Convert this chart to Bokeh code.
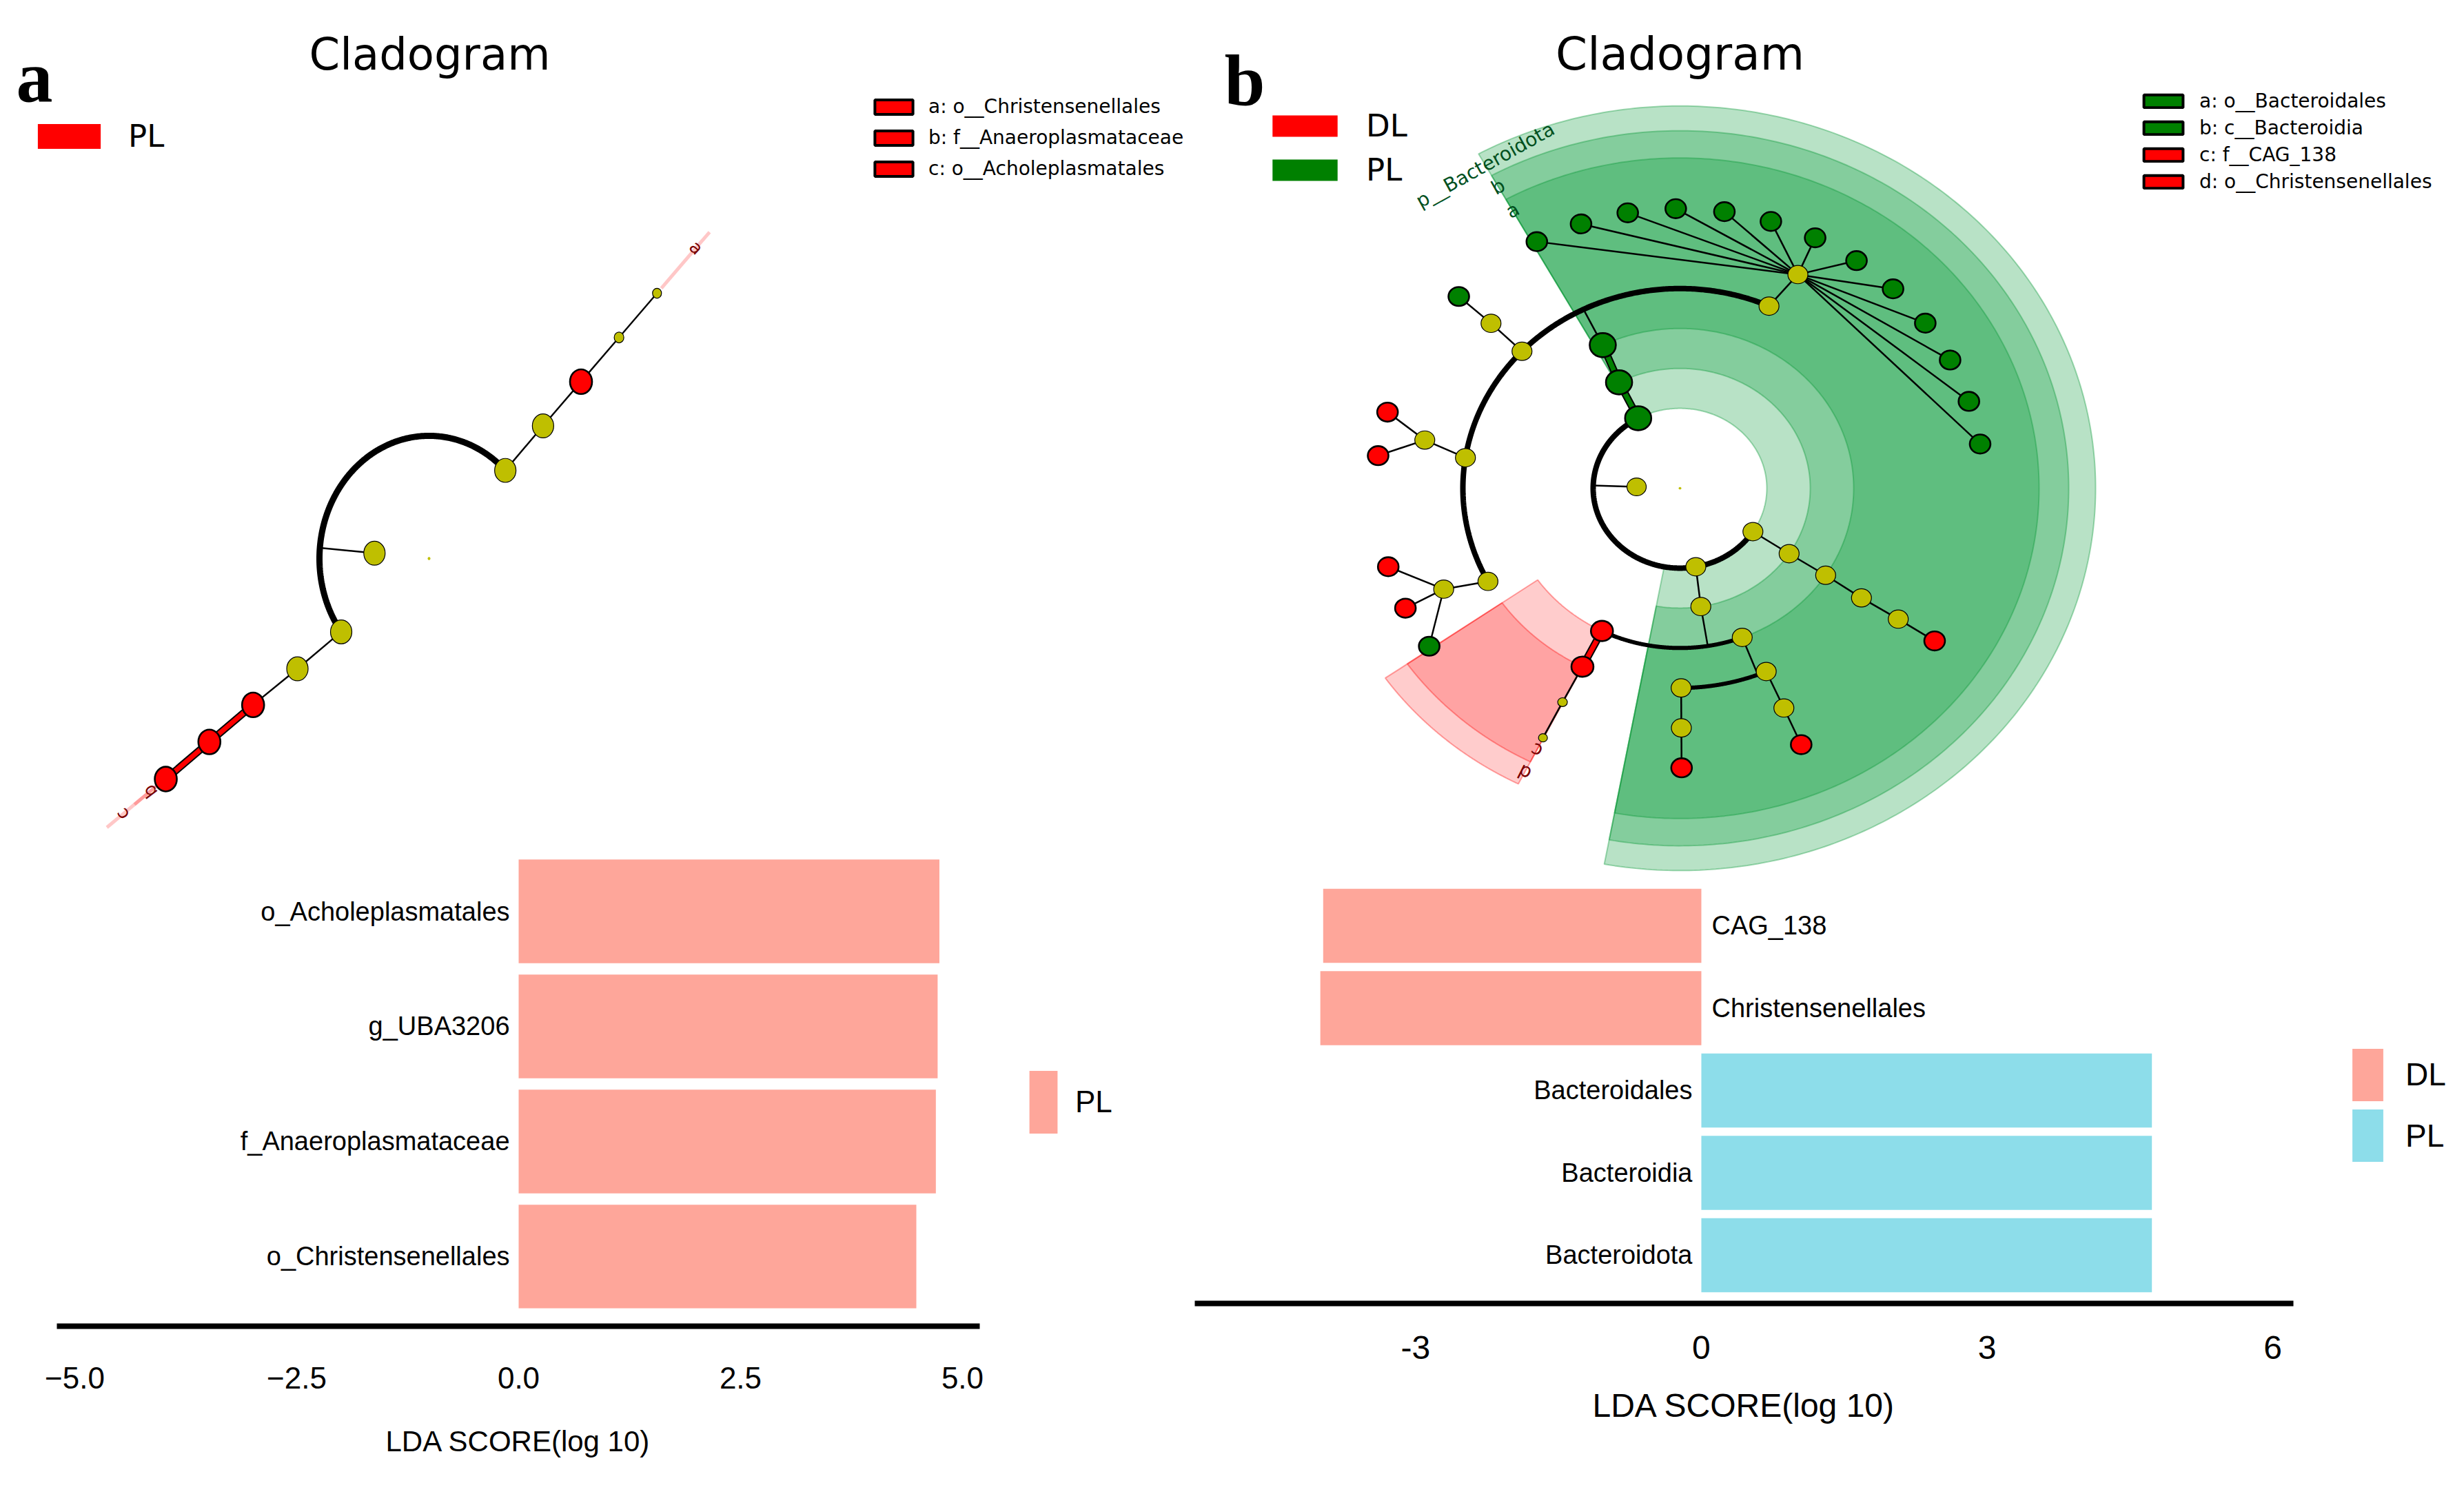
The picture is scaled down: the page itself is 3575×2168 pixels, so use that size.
import numpy as np
from bokeh.plotting import figure
from bokeh.models import ColumnDataSource, Legend, LegendItem, Label, FixedTicker, Range1d, Title
from bokeh.layouts import row, column
from bokeh.embed import file_html
from bokeh.resources import INLINE
from bokeh.core.properties import value

# ============================ DATA ============================
# ---- panel a : LDA bar chart (bottom -> top)
a_taxa = ["o_Christensenellales", "f_Anaeroplasmataceae", "g_UBA3206", "o_Acholeplasmatales"]
a_lda = [4.48, 4.70, 4.72, 4.74]
a_group = ["PL", "PL", "PL", "PL"]
a_groups = ["PL"]
a_ticks = [-5.0, -2.5, 0.0, 2.5, 5.0]
a_tick_labels = ["\u22125.0", "\u22122.5", "0.0", "2.5", "5.0"]

# ---- panel b : LDA bar chart (bottom -> top)
b_taxa = ["Bacteroidota", "Bacteroidia", "Bacteroidales", "Christensenellales", "CAG_138"]
b_lda = [4.73, 4.73, 4.73, -4.00, -3.97]
b_group = ["PL", "PL", "PL", "DL", "DL"]
b_groups = ["DL", "PL"]
b_ticks = [-3, 0, 3, 6]
b_tick_labels = ["-3", "0", "3", "6"]

# ---- panel a : cladogram (level = ring from the centre, angle in degrees)
a_clade_groups = ["PL"]
a_node_level = [0, 1, 2, 3, 4, 5, 6, 2, 3, 4, 5, 6]
a_node_angle = [0.0, 175.0, 45.9, 46.1, 46.1, 46.1, 46.1, 216.7, 216.8, 216.6, 216.7, 216.8]
a_node_class = ["none", "none", "none", "none", "PL", "none", "none", "none", "none", "PL", "PL", "PL"]
a_node_size = [4, 31, 31, 31, 32, 14, 13, 31, 31, 32, 32, 32]
a_edge_from = [2, 3, 4, 5, 7, 8, 9, 10]
a_edge_to = [3, 4, 5, 6, 8, 9, 10, 11]
a_stem_node = [1]
a_arc_level = [2]
a_arc_start = [45.9]
a_arc_end = [216.7]
a_clade_letter = ["a", "b", "c"]
a_clade_angle = [46.1, 216.7, 216.7]
a_clade_outer = [587, 533, 583]
a_legend_entries = ["a: o__Christensenellales", "b: f__Anaeroplasmataceae", "c: o__Acholeplasmatales"]
a_legend_class = ["PL", "PL", "PL"]

# ---- panel b : cladogram
b_clade_groups = ["DL", "PL"]
b_node_level = [0, 1, 2, 3, 4, 5, 5, 5, 5, 6, 6, 6, 6,
                7, 7, 7, 7, 7, 7, 7, 7, 7, 7, 7, 7, 7,
                7, 7, 7, 7, 7, 7,
                2, 2, 3, 4, 5, 6, 7, 3, 4, 5, 6, 7, 4, 5, 6, 7, 5, 6, 7]
b_node_angle = [0.0, 178.0, 118.8, 117.9, 116.4, 65.8, 136.7, 171.2, 207.8, 63.1, 136.5, 168.4, 204.9,
                118.1, 109.0, 99.9, 90.8, 81.6, 72.6, 63.6, 54.5, 45.5, 36.2, 27.3, 18.1, 9.1,
                136.7, 164.2, 173.3, 196.3, 205.4, 214.4,
                280.5, 327.1, 326.9, 327.0, 326.7, 326.9, 326.9, 279.2, 243.3, 243.3, 243.2, 243.2,
                291.0, 293.4, 293.5, 293.5, 270.3, 270.3, 270.3]
b_node_class = ["none", "none", "PL", "PL", "PL", "none", "none", "none", "none", "none", "none", "none", "none",
                "PL", "PL", "PL", "PL", "PL", "PL", "PL", "PL", "PL", "PL", "PL", "PL", "PL",
                "PL", "DL", "DL", "DL", "DL", "PL",
                "none", "none", "none", "none", "none", "none", "DL", "none", "DL", "DL", "none", "none",
                "none", "none", "none", "DL", "none", "none", "DL"]
b_node_size = [4, 28, 38, 38, 38, 29, 29, 29, 29, 29, 29, 29, 29,
               30, 30, 30, 30, 30, 30, 30, 30, 30, 30, 30, 30, 30,
               30, 30, 30, 30, 30, 30,
               29, 29, 29, 29, 29, 29, 30, 29, 32, 32, 14, 13,
               29, 29, 29, 30, 29, 29, 30]
b_edge_from = [2, 3, 5, 9, 9, 9, 9, 9, 9, 9, 9, 9, 9, 9, 9, 9,
               6, 10, 7, 11, 11, 8, 12, 12, 12, 32, 33, 34, 35, 36, 37, 40, 41, 42, 45, 46, 48, 49]
b_edge_to = [3, 4, 9, 13, 14, 15, 16, 17, 18, 19, 20, 21, 22, 23, 24, 25,
             10, 26, 11, 27, 28, 12, 29, 30, 31, 39, 34, 35, 36, 37, 38, 41, 42, 43, 46, 47, 49, 50]
b_stem_node = [1, 4, 39, 44]
b_arc_level = [2, 5, 4, 5]
b_arc_start = [118.8, 65.8, 243.3, 270.3]
b_arc_end = [327.1, 207.8, 291.0, 293.4]
b_clade_letter = ["p__Bacteroidota", "b", "a", "c", "d"]
b_clade_class = ["PL", "PL", "PL", "DL", "DL"]
b_clade_level = [2, 3, 4, 5, 4]
b_clade_start = [-100.5, -100.5, -100.5, 215.0, 215.0]
b_clade_end = [119.0, 119.0, 119.0, 243.3, 243.3]
b_clade_outer = [603, 564, 521, 483, 522]
b_legend_entries = ["a: o__Bacteroidales", "b: c__Bacteroidia", "c: f__CAG_138", "d: o__Christensenellales"]
b_legend_class = ["PL", "PL", "DL", "DL"]

# ============================ STYLE ============================
YEL, RED, GRN = "#BFBF00", "#FF0000", "#008000"
PINK, BLUE = "#FEA69A", "#8DDDEA"
SANS = "DejaVu Sans"
BARFONT = "Liberation Sans"
SERIF = "Liberation Serif"
NAN = float("nan")

a_node_col = {"none": YEL, "PL": RED}
b_node_col = {"none": YEL, "DL": RED, "PL": GRN}
b_wedge_col = {"DL": "#FF0000", "PL": "#009632"}
b_wedge_alpha = {"DL": 0.2, "PL": 0.28}
lab_col = {"DL": "#7A0000", "PL": "#00501E"}
a_lab_col = {"PL": "#7A0000"}
a_bar_col = {"PL": PINK}
b_bar_col = {"DL": PINK, "PL": BLUE}

W_LEFT, W_RIGHT = 1720, 1855
H_CLAD_A, H_BAR_A = 1225, 943
H_CLAD_B, H_BAR_B = 1275, 893


def polar(r, deg):
    t = np.deg2rad(np.asarray(deg, dtype=float))
    r = np.asarray(r, dtype=float)
    return r * np.cos(t), r * np.sin(t)


def base_fig(w, h, xr, yr):
    p = figure(width=w, height=h, x_range=Range1d(*xr), y_range=Range1d(*yr),
               output_backend="svg", toolbar_location=None, min_border=0,
               x_axis_location=None, y_axis_location=None)
    p.grid.visible = False
    p.outline_line_color = None
    p.background_fill_color = "white"
    p.border_fill_color = "white"
    return p


def draw_cladogram(p, step, yscale, lv, ang, cls, size, efrom, eto, stems,
                   arcl, arc0, arc1, arc_w, colors, thin_w):
    r = np.array(lv, dtype=float) * step
    nx, ny = polar(r, ang)
    for L, a0, a1, w in zip(arcl, arc0, arc1, arc_w):
        t = np.linspace(a0, a1, 300)
        ax, ay = polar(np.full(t.size, L * step), t)
        p.line(list(ax), list(ay), line_color="black", line_width=w)
    sxs, sys_ = [], []
    for i in stems:
        ex, ey = polar((lv[i] + 1) * step, ang[i])
        sxs.append([nx[i], float(ex)])
        sys_.append([ny[i], float(ey)])
    txs, tys, kxs, kys, kcol = [], [], [], [], []
    for i, j in zip(efrom, eto):
        if cls[i] != "none" and cls[i] == cls[j]:
            kxs.append([nx[i], nx[j]]); kys.append([ny[i], ny[j]]); kcol.append(colors[cls[i]])
        else:
            txs.append([nx[i], nx[j]]); tys.append([ny[i], ny[j]])
    p.multi_line(sxs + txs, sys_ + tys, line_color="black", line_width=thin_w)
    if kxs:
        p.multi_line(kxs, kys, line_color="black", line_width=11)
        p.multi_line(kxs, kys, line_color=kcol, line_width=7)
    src = ColumnDataSource(dict(
        x=list(nx), y=list(ny), w=list(size), h=[s * yscale for s in size],
        fill=[colors[c] for c in cls],
        lw=[1.2 if c == "none" else 2.6 for c in cls],
        la=[0.0 if L == 0 else 1.0 for L in lv]))
    p.ellipse(x="x", y="y", width="w", height="h", width_units="screen", height_units="screen",
              fill_color="fill", line_color="black", line_width="lw", line_alpha="la", source=src)


def add_legend(p, items, loc, gw, gh, lh, spacing, standoff, font, size):
    leg = Legend(items=items, location=loc, orientation="vertical", padding=0, margin=0,
                 spacing=spacing, glyph_width=gw, glyph_height=gh, label_height=lh,
                 label_standoff=standoff, label_text_font=font, label_text_font_size=size,
                 label_text_color="black", border_line_alpha=0, background_fill_alpha=0)
    p.add_layout(leg, "center")


def swatch(p, fill, line=None, lw=0):
    # legend proxy: one row without drawable coordinates, only its style is shown by the legend
    return p.quad(left=[NAN], right=[NAN], top=[NAN], bottom=[NAN], fill_color=fill,
                  line_color=line, line_width=lw)


def add_label(p, x, y, text, font, size, style="normal", align="left"):
    p.add_layout(Label(x=x, y=y, x_units="screen", y_units="screen", text=text,
                       text_font=font, text_font_size=size, text_font_style=style,
                       text_align=align, text_baseline="middle", text_color="black"))


# ============================ PANEL a : cladogram ============================
A_STEP, A_YS = 79.5, 1.12
ca = base_fig(W_LEFT, H_CLAD_A, (-622, 1098), (-370.5, 723.2))
pxs, pys = [], []
for ang_, ro in zip(a_clade_angle, a_clade_outer):
    x0, y0 = polar(486, ang_)
    x1, y1 = polar(ro, ang_)
    pxs.append([float(x0), float(x1)]); pys.append([float(y0), float(y1)])
ca.multi_line(pxs, pys, line_color=RED, line_alpha=0.22, line_width=5)
draw_cladogram(ca, A_STEP, A_YS, a_node_level, a_node_angle, a_node_class, a_node_size,
               a_edge_from, a_edge_to, a_stem_node, a_arc_level, a_arc_start, a_arc_end,
               [9], a_node_col, 2.4)
lx, ly = polar(np.array(a_clade_outer) - 28, a_clade_angle)
ca.text(x=list(lx), y=list(ly), text=a_clade_letter, angle=[a - 90 for a in a_clade_angle],
        angle_units="deg", text_align="center", text_baseline="middle",
        text_font=value(SANS), text_font_size="26px", text_color=a_lab_col["PL"])
add_label(ca, 623, 1147, "Cladogram", SANS, "64px", align="center")
add_label(ca, 23, 1114, "a", SERIF, "106px", style="bold")
ga = [swatch(ca, a_node_col[g]) for g in a_clade_groups]
add_legend(ca, [LegendItem(label=g, renderers=[r]) for g, r in zip(a_clade_groups, ga)],
           (43, 998), 114, 45, 60, 0, 29, SANS, "45px")
la = [swatch(ca, a_node_col[c], "black", 4) for c in a_legend_class]
add_legend(ca, [LegendItem(label=t, renderers=[r]) for t, r in zip(a_legend_entries, la)],
           (1262, 961.5), 69, 26, 38, 7, 16, SANS, "28px")

# ============================ PANEL b : cladogram ============================
B_STEP, B_YS = 63.0, 0.92
cb = base_fig(W_RIGHT, H_CLAD_B, (-717, 1138), (-616.3, 769.6))
wx, wy, wc, wa = [], [], [], []
for lvl, a0, a1, ro, c in zip(b_clade_level, b_clade_start, b_clade_end, b_clade_outer, b_clade_class):
    t = np.linspace(a0, a1, 300)
    xo, yo = polar(np.full(t.size, ro), t)
    xi, yi = polar(np.full(t.size, lvl * B_STEP), t[::-1])
    wx.append(list(xo) + list(xi)); wy.append(list(yo) + list(yi))
    wc.append(b_wedge_col[c]); wa.append(b_wedge_alpha[c])
cb.patches(xs="xs", ys="ys", fill_color="c", fill_alpha="a", line_color="c", line_alpha=0.35,
           line_width=2, source=ColumnDataSource(dict(xs=wx, ys=wy, c=wc, a=wa)))
draw_cladogram(cb, B_STEP, B_YS, b_node_level, b_node_angle, b_node_class, b_node_size,
               b_edge_from, b_edge_to, b_stem_node, b_arc_level, b_arc_start, b_arc_end,
               [8, 8, 6, 6], b_node_col, 2.5)
lx, ly = polar(np.array(b_clade_outer) - 20, b_clade_end)
cb.text(x=list(lx), y=list(ly), text=b_clade_letter, angle=[a - 90 for a in b_clade_end],
        angle_units="deg", text_align="center", text_baseline="middle",
        text_font=value(SANS), text_font_size="28px", text_color=[lab_col[c] for c in b_clade_class])
add_label(cb, 717, 1197, "Cladogram", SANS, "66px", align="center")
add_label(cb, 56, 1158, "b", SERIF, "106px", style="bold")
gb = [swatch(cb, b_node_col[g]) for g in b_clade_groups]
add_legend(cb, [LegendItem(label=g, renderers=[r]) for g, r in zip(b_clade_groups, gb)],
           (114, 998.5), 118, 39, 60, 4, 30, SANS, "45px")
lb = [swatch(cb, b_node_col[c], "black", 4) for c in b_legend_class]
add_legend(cb, [LegendItem(label=t, renderers=[r]) for t, r in zip(b_legend_entries, lb)],
           (1383, 993), 71, 23, 38, 1, 17, SANS, "28px")


# ============================ bar charts ============================
def bar_panel(w, h, xr, bounds, yr, borders, taxa, lda, group, groups, colors, ticks, tick_labels,
              lab_size, tick_size, tick_standoff, title, legs):
    top, bottom = borders
    p = figure(width=w, height=h, x_range=Range1d(*xr), y_range=Range1d(*yr),
               output_backend="svg", toolbar_location=None, y_axis_location=None,
               min_border_left=0, min_border_right=0, min_border_top=top,
               min_border_bottom=bottom)
    p.grid.visible = False
    p.outline_line_color = None
    rends = {}
    for g in groups:
        idx = [i for i, gg in enumerate(group) if gg == g]
        src = ColumnDataSource(dict(
            y=idx, l=[min(lda[i], 0) for i in idx], r=[max(lda[i], 0) for i in idx]))
        rends[g] = p.hbar(y="y", left="l", right="r", height=0.9, fill_color=colors[g],
                          line_color=None, source=src)
    n = len(taxa)
    tsrc = ColumnDataSource(dict(
        x=[0] * n, y=list(range(n)), t=taxa,
        al=["right" if v > 0 else "left" for v in lda],
        xo=[-13 if v > 0 else 15 for v in lda]))
    p.text(x="x", y="y", text="t", text_align="al", x_offset="xo", text_baseline="middle",
           text_font=value(BARFONT), text_font_size=lab_size, text_color="black", source=tsrc)
    ax = p.xaxis[0]
    ax.bounds = bounds
    ax.ticker = FixedTicker(ticks=ticks)
    ax.major_label_overrides = {t: l for t, l in zip(ticks, tick_labels)}
    ax.axis_line_width = 8
    ax.axis_line_color = "black"
    ax.major_tick_line_color = None
    ax.minor_tick_line_color = None
    ax.major_tick_out = 0
    ax.major_tick_in = 0
    ax.major_label_text_font = BARFONT
    ax.major_label_text_font_size = tick_size
    ax.major_label_text_color = "black"
    ax.major_label_standoff = tick_standoff
    # axis title, centred under the drawn axis line
    t_text, t_size, t_offset, t_standoff = title
    p.add_layout(Title(text=t_text, align="left", offset=t_offset, standoff=t_standoff,
                       vertical_align="top", text_font=BARFONT, text_font_size=t_size,
                       text_font_style="normal", text_color="black"), "below")
    for gs, loc, gw, gh, standoff, fsize in legs:
        add_legend(p, [LegendItem(label=g, renderers=[rends[g]]) for g in gs],
                   loc, gw, gh, gh, 0, standoff, BARFONT, fsize)
    return p


ba = bar_panel(W_LEFT, H_BAR_A, (-5.839, 7.516), (-5.202, 5.194), (-0.605, 3.551), (5, 244),
               a_taxa, a_lda, a_group, a_groups, a_bar_col, a_ticks, a_tick_labels,
               "38px", "44px", 59, ("LDA SCORE(log 10)", "42px", 559, 100),
               [(["PL"], (1488, 268.5), 51, 114, 21, "44px")])
bb = bar_panel(W_RIGHT, H_BAR_B, (-5.412, 8.010), (-5.318, 6.216), (-0.586, 4.502), (8, 277),
               b_taxa, b_lda, b_group, b_groups, b_bar_col, b_ticks, b_tick_labels,
               "38px", "48px", 47, ("LDA SCORE(log 10)", "48px", 590, 76),
               [(["DL"], (1687, 284.5), 56, 95, 27, "46px"),
                (["PL"], (1687, 196), 56, 95, 27, "46px")])

layout = row(column(ca, ba), column(cb, bb))
open("out.html", "w").write(file_html(layout, INLINE))
